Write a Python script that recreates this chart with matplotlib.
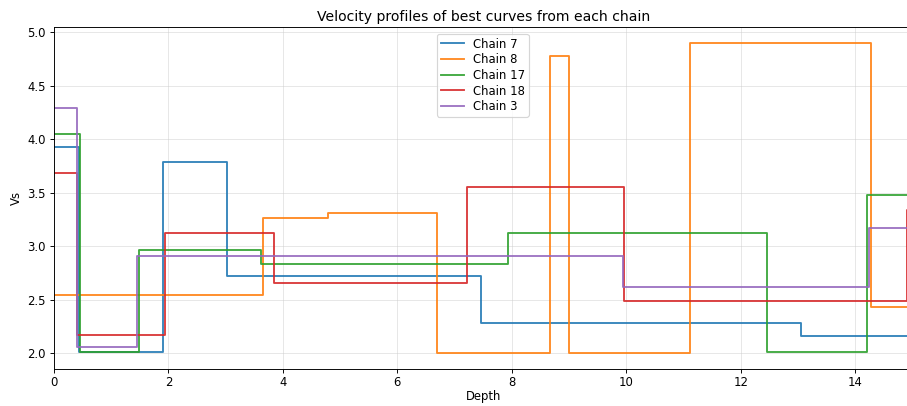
import matplotlib
matplotlib.use("Agg")
import matplotlib.pyplot as plt

# Layer top depths and shear-wave velocities for each chain
chain_names = ["Chain 7", "Chain 8", "Chain 17", "Chain 18", "Chain 3"]

depths_7 = [0, 0.44, 1.91, 3.02, 7.47, 13.05]
vs_7 = [3.925, 2.01, 3.79, 2.72, 2.277, 2.16]

depths_8 = [0, 3.66, 4.78, 6.70, 8.66, 9.00, 11.11, 14.27]
vs_8 = [2.547, 3.262, 3.305, 2.0, 4.776, 2.0, 4.895, 2.43]

depths_17 = [0, 0.46, 1.48, 3.61, 7.94, 12.46, 14.21]
vs_17 = [4.05, 2.006, 2.963, 2.83, 3.12, 2.01, 3.48]

depths_18 = [0, 0.41, 1.94, 3.85, 7.22, 9.965, 14.90]
vs_18 = [3.68, 2.17, 3.125, 2.65, 3.553, 2.487, 3.335]

depths_3 = [0, 0.41, 1.445, 9.94, 14.25]
vs_3 = [4.29, 2.056, 2.907, 2.618, 3.17]

max_depth = 16.0

profiles = [(depths_7, vs_7), (depths_8, vs_8), (depths_17, vs_17),
            (depths_18, vs_18), (depths_3, vs_3)]
colors = ["#1f77b4", "#ff7f0e", "#2ca02c", "#d62728", "#9467bd"]

W, H = 907, 406
DPI = 84
fig = plt.figure(figsize=(W / DPI, H / DPI), dpi=DPI)
left = 54 / W
right = 914 / W
bottom = 37 / H
top = 1 - 27 / H
ax = fig.add_axes([left, bottom, right - left, top - bottom])

for (d, v), name, c in zip(profiles, chain_names, colors):
    x = list(d) + [max_depth]
    y = list(v) + [v[-1]]
    ax.step(x, y, where="post", color=c, lw=1.6, label=name, alpha=0.9)

ax.set_xlim(0, 15.03)
ax.set_ylim(1.851, 5.047)
ax.set_xticks([0, 2, 4, 6, 8, 10, 12, 14])
ax.set_yticks([2.0, 2.5, 3.0, 3.5, 4.0, 4.5, 5.0])
ax.grid(True, color="#cccccc", alpha=0.5, lw=0.8)
ax.tick_params(axis="x", pad=2.3)
ax.set_xlabel("Depth", labelpad=1)
ax.set_ylabel("Vs")
ax.set_title("Velocity profiles of best curves from each chain", pad=5)
ax.legend(loc="upper left", bbox_to_anchor=(437 / W, 1 - 34 / H),
          bbox_transform=fig.transFigure, borderaxespad=0,
          labelspacing=0.23, borderpad=0.3)

fig.savefig("out.png", dpi=DPI)
